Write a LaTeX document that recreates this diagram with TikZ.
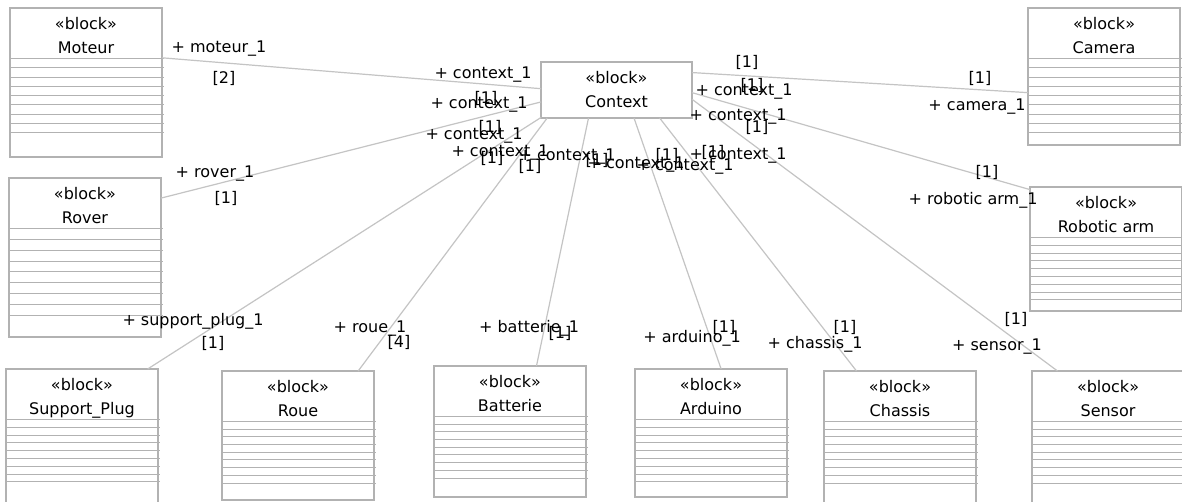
\documentclass[tikz,border=0pt]{standalone}
\usepackage{fontspec}
\setmainfont{DejaVu Sans}
\usepackage{xcolor}
\usepackage{tikz}
\usetikzlibrary{positioning}

\definecolor{boxgray}{RGB}{178,178,178}
\definecolor{linkgray}{RGB}{196,196,196}

\begin{document}
\begin{tikzpicture}[x=1pt, y=-1pt,
  block/.style={rectangle, draw=boxgray, line width=1.2pt, minimum width=152pt,
    inner sep=0pt, outer sep=0pt, anchor=north west},
  hdr/.style={align=center, inner sep=0pt, font=\fontsize{16}{24}\selectfont},
  lbl/.style={inner sep=0pt, font=\fontsize{16}{19}\selectfont, text height=12pt, text depth=1pt},
  link/.style={draw=linkgray, line width=1.2pt},
  cmpline/.style={draw=boxgray, line width=1pt},
]
\fill[white] (0,0) rectangle (1182,502);
\useasboundingbox (0,0) rectangle (1182,502);

\node[block, minimum height=149pt] (moteur)  at (10,8)     {};
\node[block, minimum height=159pt] (rover)   at (9,178)    {};
\node[block, minimum height=137pt] (camera)  at (1028,8)   {};
\node[block, minimum height=124pt] (robot)   at (1030,187) {};
\node[block, minimum height=136pt] (plug)    at (6,369)    {};
\node[block, minimum height=129pt] (roue)    at (222,371)  {};
\node[block, minimum height=131pt] (batt)    at (434,366)  {};
\node[block, minimum height=128pt] (ardu)    at (635,369)  {};
\node[block, minimum height=134pt] (chassis) at (824,371)  {};
\node[block, minimum height=134pt] (sensor)  at (1032,371) {};
\node[block, minimum height=56pt, minimum width=151pt, align=center,
  font=\fontsize{16}{24}\selectfont] (context) at (541,62) {«block»\\Context};

\foreach \b/\t in {moteur/Moteur, rover/Rover, camera/Camera, robot/Robotic arm,
  plug/Support\_Plug, roue/Roue, batt/Batterie, ardu/Arduino, chassis/Chassis, sensor/Sensor}
  \node[hdr, below=9pt of \b.north] (\b-t) {«block»\\\t};

\foreach \b/\s in {moteur/9.25, rover/10.85, camera/9.25, robot/7.8, plug/7.8,
  roue/7.7, batt/7.7, ardu/7.8, chassis/7.7, sensor/7.7}
  \foreach \i in {0,...,8}
    \draw[cmpline] (\b.north west) ++(0,{round(50+\i*\s)+0.5}) -- ++(154,0);

\draw[link] (moteur.18)  to (context.179);
\draw[link] (rover.38)   to (context.189);
\draw[link] (plug.46)    to (context.200);
\draw[link] (roue.47)    to (context.202);
\draw[link] (batt.68)    to (context.225);
\draw[link] (ardu.81)    to (context.302);
\draw[link] (chassis.123) to (context.327);
\draw[link] (sensor.127) to (context.353);
\draw[link] (robot.142)  to (context.358);
\draw[link] (camera.192) to (context.13);

\node[lbl] (moteur-r)  at (219,47)  {+ moteur\_1};
\node[lbl] (moteur-m)  at (224,78)  {[2]};
\node[lbl] (rover-r)   at (215,172) {+ rover\_1};
\node[lbl] (rover-m)   at (226,198) {[1]};
\node[lbl] (plug-r)    at (193,320) {+ support\_plug\_1};
\node[lbl] (plug-m)    at (213,343) {[1]};
\node[lbl] (roue-r)    at (370,327) {+ roue\_1};
\node[lbl] (roue-m)    at (399,342) {[4]};
\node[lbl] (batt-r)    at (529,327) {+ batterie\_1};
\node[lbl] (batt-m)    at (560,333) {[1]};
\node[lbl] (ardu-r)    at (692,337) {+ arduino\_1};
\node[lbl] (ardu-m)    at (724,327) {[1]};
\node[lbl] (chassis-r) at (815,343) {+ chassis\_1};
\node[lbl] (chassis-m) at (845,327) {[1]};
\node[lbl] (sensor-r)  at (997,345) {+ sensor\_1};
\node[lbl] (sensor-m)  at (1016,319) {[1]};
\node[lbl] (robot-r)   at (973,199) {+ robotic arm\_1};
\node[lbl] (robot-m)   at (987,172) {[1]};
\node[lbl] (camera-r)  at (977,105) {+ camera\_1};
\node[lbl] (camera-m)  at (980,78)  {[1]};

\foreach \x/\y [count=\i] in {483/73, 479/103, 474/134, 500/151, 567/155,
  636/163, 685/165, 738/154, 738/115, 744/90}
  \node[lbl] (ctx-r\i) at (\x,\y) {+ context\_1};
\foreach \x/\y [count=\i] in {486/98, 490/127, 492/158, 530/166, 597/160,
  667/155, 713/152, 757/127, 752/85, 747/62}
  \node[lbl] (ctx-m\i) at (\x,\y) {[1]};
\end{tikzpicture}
\end{document}
